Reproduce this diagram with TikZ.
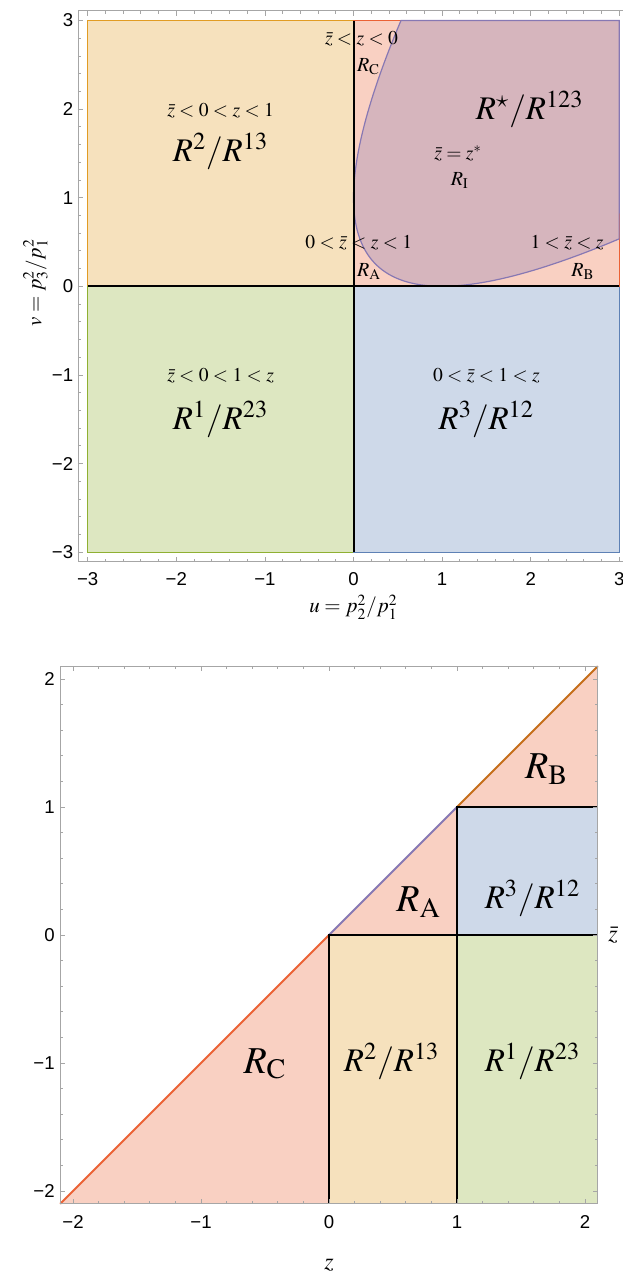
\documentclass[tikz,border=0pt]{standalone}
\usepackage{mathptmx}
\usepackage{fontspec}
\setmainfont{Liberation Serif}
\newfontfamily\ticksf{Liberation Sans}
\definecolor{mmaBlue}{RGB}{94,129,181}
\definecolor{mmaOrange}{RGB}{225,156,36}
\definecolor{mmaGreen}{RGB}{143,176,50}
\definecolor{mmaRed}{RGB}{235,98,53}
\definecolor{mmaPurple}{RGB}{135,120,179}
\definecolor{mmaBrown}{RGB}{197,110,26}
\tikzset{
  region/.style={draw=#1,fill=#1,fill opacity=0.3,line width=0.6pt},
  patch/.style={fill=#1,fill opacity=0.3},
  bound/.style={line width=1pt},
  frameline/.style={draw=black!35,line width=0.4pt},
  ticklab/.style={font=\ticksf\fontsize{9.3}{11}\selectfont,inner sep=0pt},
  cond/.style={font=\fontsize{9.8}{11}\selectfont,anchor=base,inner sep=0pt},
  sublab/.style={font=\fontsize{10}{12}\selectfont,anchor=base,inner sep=0pt},
  biglab/.style={font=\fontsize{16.5}{19}\selectfont,anchor=base,inner sep=0pt},
  hugelab/.style={font=\fontsize{19}{22}\selectfont,anchor=base,inner sep=0pt},
  axislab/.style={font=\fontsize{10.5}{12}\selectfont,inner sep=0pt}
}
\begin{document}
\begin{tikzpicture}
\useasboundingbox (0,0) rectangle (311pt,-637.5pt);

\begin{scope}[shift={(176.75pt,-143.15pt)},x=44.3pt,y=44.3pt]
\filldraw[region=mmaOrange] (-3,0) rectangle (0,3);
\filldraw[region=mmaGreen] (-3,-3) rectangle (0,0);
\filldraw[region=mmaBlue] (0,-3) rectangle (3,0);
\filldraw[region=mmaRed] (0,0) rectangle (3,3);
\filldraw[region=mmaPurple]
  plot[domain=-0.732:1.732,samples=90,variable=\t] ({\t*\t},{(1-\t)*(1-\t)})
  -- (3,3) -- cycle;
\draw[bound] (-3,0) -- (3,0);
\draw[bound] (0,-3) -- (0,3);
\draw[frameline] (-3.11,-3.11) rectangle (3.11,3.11);
\foreach \i in {-15,...,15}{
  \draw[frameline] (\i/5,-3.11) -- ++(0,1.5pt) (\i/5,3.11) -- ++(0,-1.5pt)
    (-3.11,\i/5) -- ++(1.5pt,0) (3.11,\i/5) -- ++(-1.5pt,0);
}
\foreach \k/\t [count=\n] in {-3/−3,-2/−2,-1/−1,0/0,1/1,2/2,3/3}{
  \draw[frameline] (\k,-3.11) -- ++(0,2.5pt) (\k,3.11) -- ++(0,-2.5pt)
    (-3.11,\k) -- ++(2.5pt,0) (3.11,\k) -- ++(-2.5pt,0);
  \node[ticklab] (ut\n) at (\k,-3.30) {\t};
  \node[ticklab,anchor=east] (vt\n) at (-3.16,\k) {\t};
}
\node[axislab] (ulabel) at (0,-3.62) {$u = p_2^2/p_1^2$};
\node[axislab,rotate=90] (vlabel) at (-3.59,0.04) {$v = p_3^2/p_1^2$};
\node[cond] (c2) at (-1.5,1.92) {$\bar{z} < 0 < z < 1$};
\node[biglab] (r2) at (-1.5,1.41) {$R^2/R^{13}$};
\node[cond] (c1) at (-1.5,-1.08) {$\bar{z} < 0 < 1 < z$};
\node[biglab] (r1) at (-1.5,-1.62) {$R^1/R^{23}$};
\node[cond] (c3) at (1.5,-1.08) {$0 < \bar{z} < 1 < z$};
\node[biglab] (r3) at (1.5,-1.62) {$R^3/R^{12}$};
\node[biglab] (rstar) at (1.99,1.88) {$R^\star/R^{123}$};
\node[cond] (ci) at (1.18,1.43) {$\bar{z} = z^*$};
\node[sublab] (ri) at (1.2,1.14) {$R_{\mathrm{I}}$};
\node[cond] (cc) at (0.09,2.73) {$\bar{z} < z < 0$};
\node[sublab] (rc) at (0.17,2.42) {$R_{\mathrm{C}}$};
\node[cond] (ca) at (0.06,0.43) {$0 < \bar{z} < z < 1$};
\node[sublab] (ra) at (0.175,0.11) {$R_{\mathrm{A}}$};
\node[cond] (cb) at (2.41,0.43) {$1 < \bar{z} < z$};
\node[sublab] (rb) at (2.59,0.11) {$R_{\mathrm{B}}$};
\end{scope}

\begin{scope}[shift={(164.5pt,-467.5pt)},x=64pt,y=64pt]
\fill[patch=mmaRed] (-2.1,-2.1) -- (0,0) -- (0,-2.1) -- cycle;
\fill[patch=mmaOrange] (0,-2.1) rectangle (1,0);
\fill[patch=mmaGreen] (1,-2.1) rectangle (2.1,0);
\fill[patch=mmaBlue] (1,0) rectangle (2.1,1);
\fill[patch=mmaRed] (0,0) -- (1,1) -- (1,0) -- cycle;
\fill[patch=mmaRed] (1,1) -- (2.1,2.1) -- (2.1,1) -- cycle;
\draw[bound,mmaRed] (-2.1,-2.1) -- (0,0);
\draw[bound,mmaPurple] (0,0) -- (1,1);
\draw[bound,mmaBrown] (1,1) -- (2.1,2.1);
\draw[bound] (0,-2.1) -- (0,0) -- (2.1,0);
\draw[bound] (1,-2.1) -- (1,1) -- (2.1,1);
\draw[frameline] (-2.1,-2.1) rectangle (2.1,2.1);
\foreach \i in {-10,...,10}{
  \draw[frameline] (\i/5,-2.1) -- ++(0,1.5pt) (\i/5,2.1) -- ++(0,-1.5pt)
    (-2.1,\i/5) -- ++(1.5pt,0) (2.1,\i/5) -- ++(-1.5pt,0);
}
\foreach \k/\t [count=\n] in {-2/−2,-1/−1,0/0,1/1,2/2}{
  \draw[frameline] (\k,-2.1) -- ++(0,2.5pt) (\k,2.1) -- ++(0,-2.5pt)
    (-2.1,\k) -- ++(2.5pt,0) (2.1,\k) -- ++(-2.5pt,0);
  \node[ticklab] (zt\n) at (\k,-2.24) {\t};
  \node[ticklab,anchor=east] (zbt\n) at (-2.14,\k) {\t};
}
\node[axislab,font=\fontsize{12}{14}\selectfont] (zlabel) at (0,-2.58) {$z$};
\node[axislab,font=\fontsize{12}{14}\selectfont] (zbarlabel) at (2.22,0) {$\bar{z}$};
\node[hugelab] (rbb) at (1.70,1.22) {$R_{\mathrm{B}}$};
\node[hugelab] (raa) at (0.70,0.18) {$R_{\mathrm{A}}$};
\node[biglab] (r3b) at (1.59,0.21) {$R^3/R^{12}$};
\node[hugelab] (rcc) at (-0.5,-1.08) {$R_{\mathrm{C}}$};
\node[biglab] (r2b) at (0.49,-1.07) {$R^2/R^{13}$};
\node[biglab] (r1b) at (1.59,-1.07) {$R^1/R^{23}$};
\end{scope}
\end{tikzpicture}
\end{document}
